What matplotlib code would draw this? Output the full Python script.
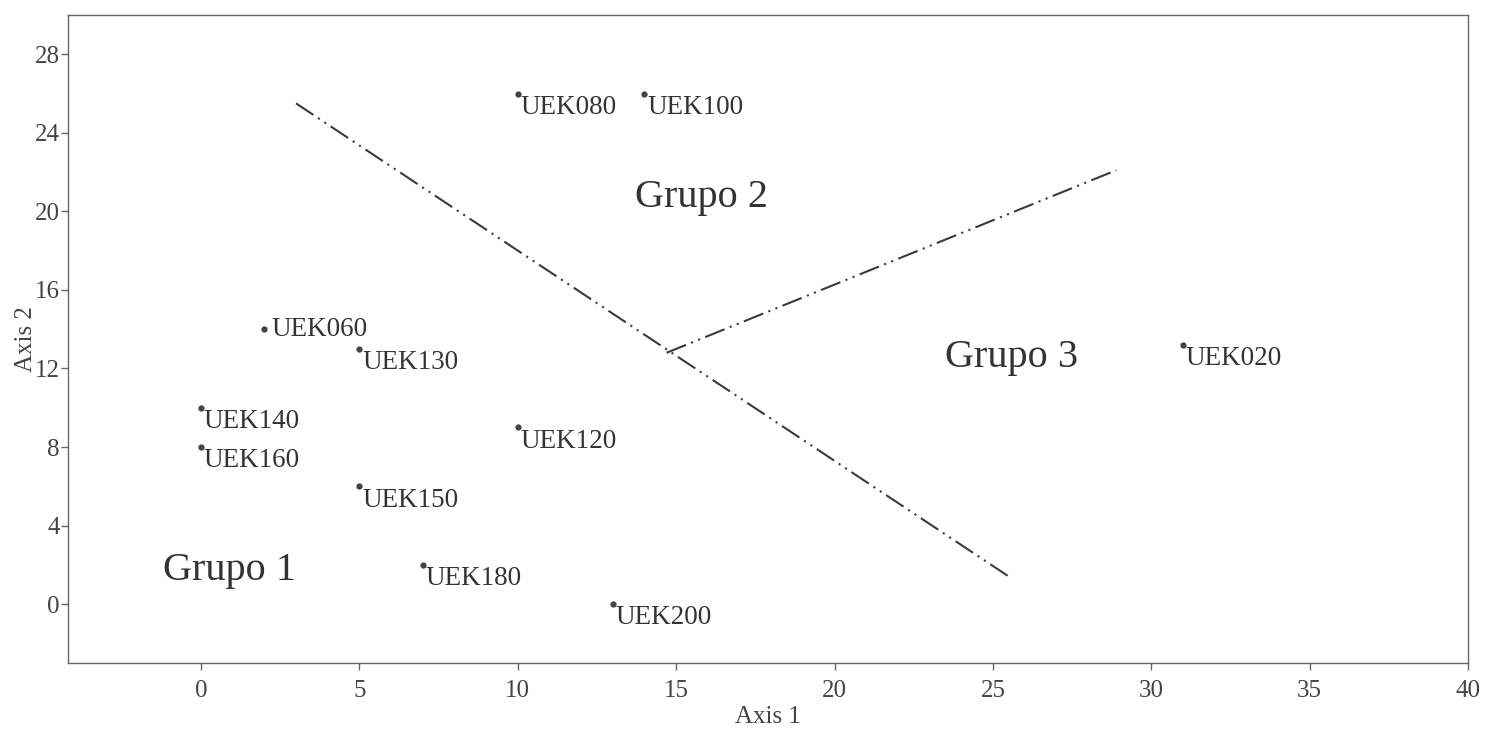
import matplotlib
matplotlib.use('Agg')
import matplotlib.pyplot as plt

# Sample scores on the first two ordination axes
labels = ['UEK080', 'UEK100', 'UEK060', 'UEK130', 'UEK140', 'UEK160',
          'UEK120', 'UEK150', 'UEK180', 'UEK200', 'UEK020']
axis1 = [10, 14, 2, 5, 0, 0, 10, 5, 7, 13, 31]
axis2 = [26, 26, 14, 13, 10, 8, 9, 6, 2, 0, 13.2]

# Group separators (start and end of each dash-dot-dot line)
sep1_x = [3.0, 25.6]
sep1_y = [25.5, 1.3]
sep2_x = [14.7, 28.9]
sep2_y = [12.8, 22.1]

groups = ['Grupo 1', 'Grupo 2', 'Grupo 3']
group_x = [0.9, 15.8, 25.6]
group_y = [1.7, 20.7, 12.55]

plt.rcParams['font.family'] = ['Liberation Serif', 'DejaVu Serif']
plt.rcParams['lines.scale_dashes'] = False

ink = '#333333'
axis_col = '#666666'

fig = plt.figure(figsize=(14.94, 7.33), dpi=100)
ax = fig.add_axes([0.0455, 0.0955, 0.9371, 0.884])

dash = (0, (15, 4, 1.5, 4, 1.5, 4))
ax.plot(sep1_x, sep1_y, color='#3a3a3a', lw=1.5, linestyle=dash)
ax.plot(sep2_x, sep2_y, color='#3a3a3a', lw=1.5, linestyle=dash)

ax.plot(axis1, axis2, 'o', color='#444444', markersize=3.5, linestyle='none')

for name, x, y in zip(labels, axis1, axis2):
    if name == 'UEK060':
        ax.annotate(name, (x, y), xytext=(5, 0), textcoords='offset points',
                    ha='left', va='center', fontsize=19.5, color=ink)
    else:
        ax.annotate(name, (x, y), xytext=(2, -1), textcoords='offset points',
                    ha='left', va='top', fontsize=19.5, color=ink)

for g, x, y in zip(groups, group_x, group_y):
    ax.text(x, y, g, ha='center', va='center', fontsize=29, color=ink)

ax.set_xlim(-4.2, 40)
ax.set_ylim(-3, 30)
ax.set_xticks(range(0, 41, 5))
ax.set_yticks(range(0, 29, 4))

for sp in ax.spines.values():
    sp.set_color(axis_col)
    sp.set_linewidth(1.0)
ax.tick_params(direction='out', length=5, width=1, color=axis_col,
               labelsize=18, labelcolor='#444444', pad=1)
ax.tick_params(axis='x', pad=7)

ax.set_xlabel('Axis 1', fontsize=18, color='#444444', labelpad=3)
ax.set_ylabel('Axis 2', fontsize=18, color='#444444', labelpad=-2)

fig.savefig('out.png', dpi=100)
